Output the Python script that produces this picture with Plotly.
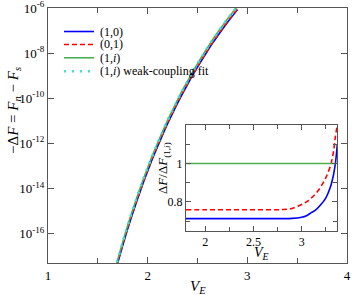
import numpy as np
import plotly.graph_objects as go

# ---------------- data ----------------
V_main = [1.65, 1.70, 1.75, 1.80, 1.85, 1.90, 1.95, 2.00, 2.05, 2.10, 2.15, 2.20, 2.25,
          2.30, 2.35, 2.40, 2.45, 2.50, 2.55, 2.60, 2.65, 2.70, 2.75, 2.80, 2.85, 2.90]
# log10(-dF) for the (1,i) state (green) and its weak-coupling fit (cyan)
log_dF_1i = [-17.96, -17.14, -16.37, -15.63, -14.94, -14.29, -13.67, -13.08, -12.51,
             -11.98, -11.47, -10.98, -10.52, -10.07, -9.64, -9.24, -8.84, -8.47,
             -8.11, -7.76, -7.42, -7.10, -6.79, -6.49, -6.21, -5.93]
log_dF_fit = [-17.96, -17.14, -16.37, -15.63, -14.94, -14.29, -13.67, -13.08, -12.51,
              -11.98, -11.47, -10.98, -10.52, -10.07, -9.64, -9.24, -8.84, -8.47,
              -8.11, -7.76, -7.42, -7.10, -6.79, -6.49, -6.21, -5.93]
log_dF_10 = [-18.11, -17.29, -16.52, -15.78, -15.09, -14.44, -13.82, -13.23, -12.66,
             -12.13, -11.62, -11.13, -10.67, -10.22, -9.79, -9.39, -8.99, -8.62,
             -8.26, -7.91, -7.57, -7.25, -6.94, -6.64, -6.36, -6.08]
log_dF_01 = [-18.08, -17.26, -16.49, -15.75, -15.06, -14.41, -13.79, -13.20, -12.63,
             -12.10, -11.59, -11.10, -10.64, -10.19, -9.76, -9.36, -8.96, -8.59,
             -8.23, -7.88, -7.54, -7.22, -6.91, -6.61, -6.33, -6.05]

V_in = [1.80, 2.00, 2.20, 2.40, 2.60, 2.80, 2.90, 3.00, 3.05, 3.10, 3.15, 3.20,
        3.25, 3.30, 3.33, 3.35, 3.37]
ratio_10 = [0.713, 0.713, 0.713, 0.713, 0.713, 0.713, 0.714, 0.720, 0.728, 0.744,
            0.760, 0.786, 0.820, 0.880, 0.940, 1.000, 1.100]
ratio_01 = [0.759, 0.759, 0.759, 0.759, 0.759, 0.760, 0.766, 0.786, 0.800, 0.820,
            0.845, 0.880, 0.925, 0.990, 1.060, 1.140, 1.200]
ratio_1i = [1.0] * len(V_in)

names = ["(1,0)", "(0,1)", "(1,<i>i</i>)", "(1,<i>i</i>) weak-coupling fit"]
y_tick_vals = [1e-6, 1e-8, 1e-10, 1e-12, 1e-14, 1e-16]
y_tick_text = ["10<sup>-6</sup>", "10<sup>-8</sup>", "10<sup>-10</sup>",
               "10<sup>-12</sup>", "10<sup>-14</sup>", "10<sup>-16</sup>"]

# ---------------- style ----------------
FONT = "Times New Roman"
BLUE, RED, GREEN, CYAN = "#0000ff", "#ff0000", "#4caf50", "#40e0d0"
AX = "#555555"
styles = [dict(color=BLUE, width=1.6),
          dict(color=RED, width=1.6, dash="5px,3px"),
          dict(color=GREEN, width=1.6),
          dict(color=CYAN, width=2.6, dash="2px,6px")]

fig = go.Figure()
main_series = [log_dF_10, log_dF_01, log_dF_1i, log_dF_fit]
for nm, lg, st in zip(names, main_series, styles):
    fig.add_trace(go.Scatter(x=V_main, y=[10 ** v for v in lg], mode="lines",
                             line=dict(shape="spline", **st), name=nm,
                             showlegend=False, xaxis="x", yaxis="y"))

for nm, r, st in zip(names[:3], [ratio_10, ratio_01, ratio_1i], styles[:3]):
    fig.add_trace(go.Scatter(x=V_in, y=r, mode="lines",
                             line=dict(shape="spline", **st), name=nm,
                             showlegend=False, xaxis="x2", yaxis="y2"))

common = dict(showline=True, linecolor=AX, linewidth=1, mirror="ticks",
              ticks="inside", tickcolor=AX, showgrid=False, zeroline=False,
              automargin=False, ticklabeloverflow="allow")

fig.update_layout(
    width=353, height=295,
    margin=dict(l=48, r=6, t=8, b=32),
    paper_bgcolor="white", plot_bgcolor="white",
    font=dict(family=FONT, size=13, color="black"),
    xaxis=dict(domain=[0, 1], range=[1, 4], tickvals=[1, 2, 3, 4], ticklen=6,
               minor=dict(tickmode="linear", tick0=1.5, dtick=1, ticklen=5,
                          ticks="inside", tickcolor=AX),
               tickfont=dict(family=FONT, size=13), anchor="y", **common),
    yaxis=dict(domain=[0, 1], type="log", range=[-17.3, -6],
               tickvals=y_tick_vals, ticktext=y_tick_text, ticklen=6,
               tickfont=dict(family=FONT, size=13), anchor="x", **common),
    xaxis2=dict(domain=[0.4615, 0.9676], range=[1.8, 3.37],
                tickvals=[2, 2.5, 3], ticktext=["2", "2.5", "3"], ticklen=5,
                minor=dict(tickmode="linear", tick0=2.25, dtick=0.5, ticklen=4,
                           ticks="inside", tickcolor=AX),
                tickfont=dict(family=FONT, size=12), anchor="y2", **common),
    yaxis2=dict(domain=[0.1267, 0.541], range=[0.65, 1.2],
                tickvals=[0.8, 1.0], ticktext=["0.8", "1"], ticklen=5,
                minor=dict(tickmode="linear", tick0=0.7, dtick=0.2, ticklen=4,
                           ticks="inside", tickcolor=AX),
                tickfont=dict(family=FONT, size=12), anchor="x2", **common),
)

# ---------------- custom compact legend ----------------
leg_y = [0.9078, 0.8569, 0.8047, 0.7518]
shapes = []
annotations = []
for nm, st, yy in zip(names, styles, leg_y):
    ln = dict(color=st["color"], width=st["width"])
    if "dash" in st:
        ln["dash"] = st["dash"]
    shapes.append(dict(type="line", xref="paper", yref="paper",
                       x0=0.0535, x1=0.1538, y0=yy, y1=yy, line=ln))
    annotations.append(dict(text=nm, xref="paper", yref="paper", x=0.167, y=yy,
                            xanchor="left", yanchor="middle", showarrow=False,
                            font=dict(family=FONT, size=12)))

# axis titles
annotations += [
    dict(text="−Δ<i>F</i> = <i>F</i><sub><i>n</i></sub> − <i>F</i><sub><i>s</i></sub>",
         xref="paper", yref="paper", x=-0.114, y=0.6, textangle=-90,
         xanchor="center", yanchor="middle", showarrow=False,
         font=dict(family=FONT, size=15)),
    dict(text="<i>V</i><sub><i>E</i></sub>", xref="paper", yref="paper",
         x=0.5, y=-0.094, xanchor="center", yanchor="middle", showarrow=False,
         font=dict(family=FONT, size=15)),
    dict(text="<i>V</i><sub><i>E</i></sub>", xref="paper", yref="paper",
         x=0.7157, y=0.036, xanchor="center", yanchor="middle", showarrow=False,
         font=dict(family=FONT, size=14)),
    dict(text="Δ<i>F</i>/Δ<i>F</i><sub>(1,<i>i</i>)</sub>", xref="paper", yref="paper",
         x=0.3846, y=0.3725, textangle=-90, xanchor="center", yanchor="middle",
         showarrow=False, font=dict(family=FONT, size=13)),
]
fig.update_layout(shapes=shapes, annotations=annotations)

fig.write_html("out.html", config={"displayModeBar": False},
               post_script="document.body.style.margin='0';"
                           "document.body.style.padding='0';")
